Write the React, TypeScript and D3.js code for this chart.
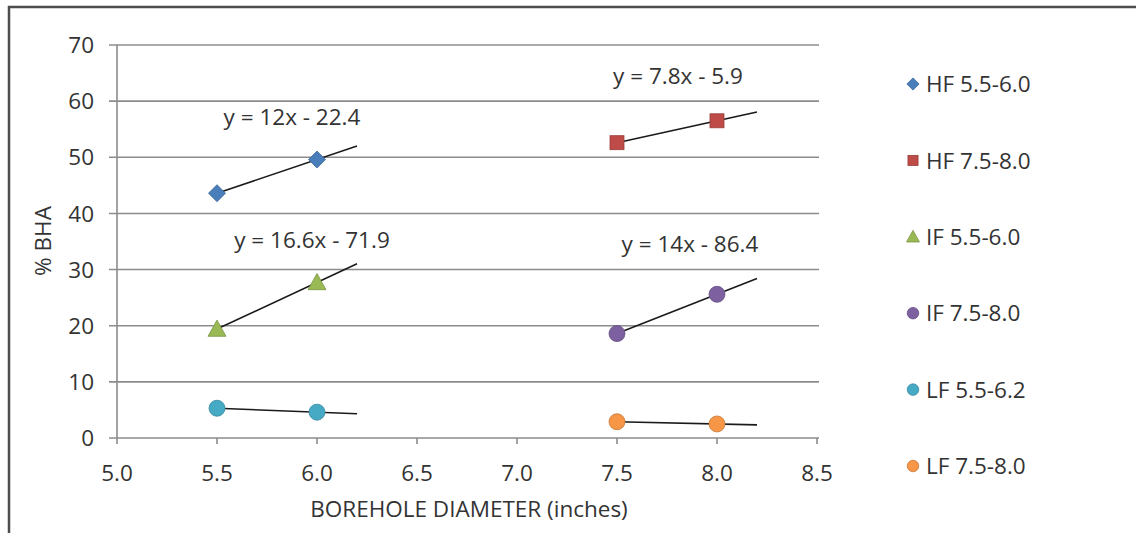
import React from "react";
import * as d3 from "d3";

const W = 1136;
const H = 533;

const xTicks = [5.0, 5.5, 6.0, 6.5, 7.0, 7.5, 8.0, 8.5];
const yTicks = [0, 10, 20, 30, 40, 50, 60, 70];

const seriesNames = ["HF 5.5-6.0", "HF 7.5-8.0", "IF 5.5-6.0", "IF 7.5-8.0", "LF 5.5-6.2", "LF 7.5-8.0"];
const seriesColors = ["#4a7ebb", "#be4b48", "#98b954", "#7d60a0", "#46aac5", "#f79646"];
const seriesShapes = ["diamond", "square", "triangle", "circle", "circle", "circle"];
const seriesX = [
  [5.5, 6.0],
  [7.5, 8.0],
  [5.5, 6.0],
  [7.5, 8.0],
  [5.5, 6.0],
  [7.5, 8.0],
];
const seriesY = [
  [43.6, 49.6],
  [52.6, 56.5],
  [19.4, 27.7],
  [18.6, 25.6],
  [5.3, 4.6],
  [2.9, 2.5],
];
// trendline equations (slope, intercept); null label = equation not shown
const trendSlope = [12, 7.8, 16.6, 14, -1.4, -0.8];
const trendIntercept = [-22.4, -5.9, -71.9, -86.4, 13.0, 8.9];
const trendLabels = ["y = 12x - 22.4", "y = 7.8x - 5.9", "y = 16.6x - 71.9", "y = 14x - 86.4", null, null];
const labelAt = [
  [5.875, 57.2],
  [7.805, 64.5],
  [5.975, 35.3],
  [7.865, 34.6],
  null,
  null,
];
const forecast = 0.2;

const x = d3.scaleLinear().domain([5.0, 8.5]).range([117, 817]);
const y = d3.scaleLinear().domain([0, 70]).range([438, 45]);

const FONT = "'Open Sans', sans-serif";
const FS = 22.5;
const TEXT = "#333";

function marker(shape: string, cx: number, cy: number, color: string, key: string, s = 1) {
  const edge = d3.color(color)!.darker(0.6).toString();
  if (shape === "diamond") {
    const r = 8.5 * s;
    return <path key={key} d={`M${cx},${cy - r}L${cx + r},${cy}L${cx},${cy + r}L${cx - r},${cy}Z`} fill={color} stroke={edge} strokeWidth={0.8} />;
  }
  if (shape === "square") {
    const r = 7 * s;
    return <rect key={key} x={cx - r} y={cy - r} width={2 * r} height={2 * r} fill={color} stroke={edge} strokeWidth={0.8} />;
  }
  if (shape === "triangle") {
    const r = 9 * s;
    return <path key={key} d={`M${cx},${cy - r}L${cx + r},${cy + r * 0.8}L${cx - r},${cy + r * 0.8}Z`} fill={color} stroke={edge} strokeWidth={0.8} />;
  }
  return <circle key={key} cx={cx} cy={cy} r={8 * s} fill={color} stroke={edge} strokeWidth={0.8} />;
}

export default function App() {
  const line = d3.line<[number, number]>().x((d) => x(d[0])).y((d) => y(d[1]));
  return (
    <svg width={W} height={H} style={{ position: "absolute", left: 0, top: 0, background: "#fff" }}>
      <rect x={0} y={0} width={W} height={H} fill="#fff" />
      {/* chart frame: top and left edges */}
      <path d={`M9,${H}V7H${W}`} fill="none" stroke="#4d4d4d" strokeWidth={2.5} />

      {/* horizontal gridlines */}
      {yTicks.map((t) => (
        <line key={"g" + t} x1={109} x2={819} y1={y(t)} y2={y(t)} stroke="#8c8c8c" strokeWidth={1.6} />
      ))}
      {/* vertical axis */}
      <line x1={x(5.0)} x2={x(5.0)} y1={y(70)} y2={y(0)} stroke="#8c8c8c" strokeWidth={1.6} />
      {/* x ticks */}
      {xTicks.map((t) => (
        <line key={"xt" + t} x1={x(t)} x2={x(t)} y1={y(0)} y2={y(0) + 6} stroke="#8c8c8c" strokeWidth={1.6} />
      ))}

      {/* y tick labels */}
      {yTicks.map((t) => (
        <text key={"yl" + t} x={94} y={y(t)} dy="0.36em" textAnchor="end" fontFamily={FONT} fontSize={FS} fill={TEXT}>
          {t}
        </text>
      ))}
      {/* x tick labels */}
      {xTicks.map((t) => (
        <text key={"xl" + t} x={x(t)} y={473} dy="0.36em" textAnchor="middle" fontFamily={FONT} fontSize={FS} fill={TEXT}>
          {t.toFixed(1)}
        </text>
      ))}

      {/* axis titles */}
      <text x={469} y={509} dy="0.36em" textAnchor="middle" fontFamily={FONT} fontSize={FS} fill={TEXT}>
        BOREHOLE DIAMETER (inches)
      </text>
      <text transform="translate(51,241) rotate(-90)" textAnchor="middle" fontFamily={FONT} fontSize={FS} fill={TEXT}>
        % BHA
      </text>

      {/* trendlines */}
      {seriesNames.map((n, i) => {
        const x0 = d3.min(seriesX[i])!;
        const x1 = d3.max(seriesX[i])! + forecast;
        const pts: [number, number][] = [
          [x0, trendSlope[i] * x0 + trendIntercept[i]],
          [x1, trendSlope[i] * x1 + trendIntercept[i]],
        ];
        return <path key={"tl" + n} d={line(pts)!} stroke="#1a1a1a" strokeWidth={1.6} fill="none" />;
      })}

      {/* data markers */}
      {seriesNames.map((n, i) => (
        <g key={"m" + n}>
          {seriesX[i].map((xv, j) => marker(seriesShapes[i], x(xv), y(seriesY[i][j]), seriesColors[i], n + j))}
        </g>
      ))}

      {/* trendline equations */}
      {trendLabels.map((lab, i) =>
        lab && labelAt[i] ? (
          <text key={"eq" + i} x={x(labelAt[i]![0])} y={y(labelAt[i]![1])} dy="0.36em" textAnchor="middle" fontFamily={FONT} fontSize={FS} fill={TEXT}>
            {lab}
          </text>
        ) : null
      )}

      {/* legend */}
      {seriesNames.map((n, i) => {
        const ly = 84 + i * 76.4;
        return (
          <g key={"lg" + n}>
            {marker(seriesShapes[i], 913, ly, seriesColors[i], "lm" + n, 0.72)}
            <text x={926} y={ly} dy="0.36em" fontFamily={FONT} fontSize={FS} fill={TEXT}>
              {n}
            </text>
          </g>
        );
      })}
    </svg>
  );
}
